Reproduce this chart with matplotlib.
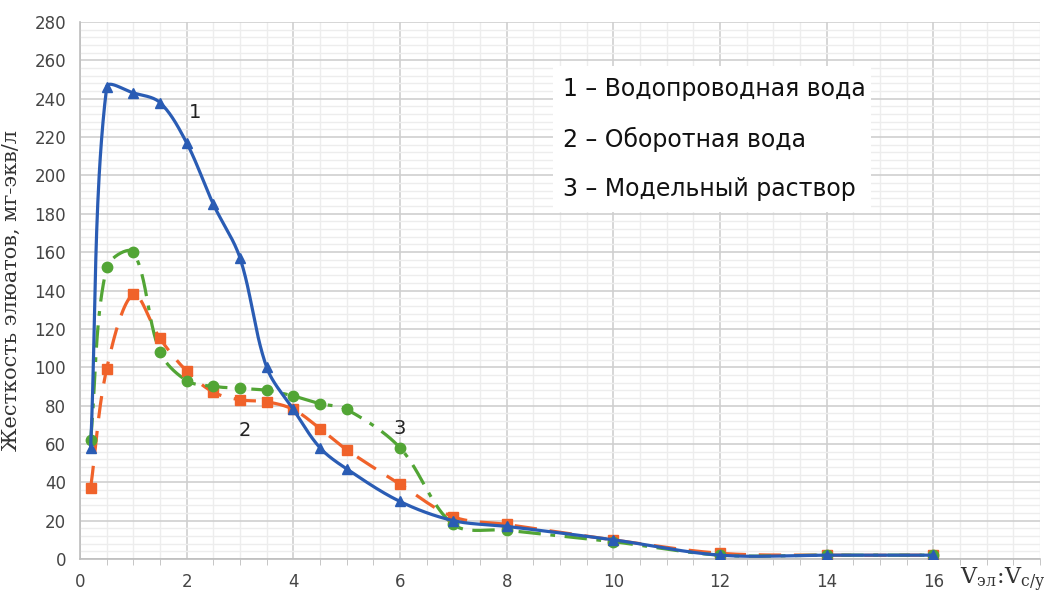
import numpy as np
import matplotlib.pyplot as plt
from matplotlib.patches import Rectangle
from matplotlib.ticker import MultipleLocator

# данные
x = [0.2, 0.5, 1, 1.5, 2, 2.5, 3, 3.5, 4, 4.5, 5, 6, 7, 8, 10, 12, 14, 16]
tap_water = [58, 246, 243, 238, 217, 185, 157, 100, 78, 58, 47, 30, 20, 17, 10, 2, 2, 2]
recycled_water = [37, 99, 138, 115, 98, 87, 83, 82, 78, 68, 57, 39, 22, 18, 10, 3, 2, 2]
model_solution = [62, 152, 160, 108, 93, 90, 89, 88, 85, 81, 78, 58, 18, 15, 9, 2, 2, 2]

legend_lines = ["1 – Водопроводная вода", "2 – Оборотная вода", "3 – Модельный раствор"]
legend_y = [245, 219, 193]

blue = '#2a5cb4'
orange = '#f0622a'
green = '#52a535'

# масштаб пикселей на единицу по осям (для сглаживания)
KX, KY = 53.6, 1.92


def smooth(xs, ys, n=40):
    # сглаживание в духе Excel: Безье, касательные зависят от длины отрезков
    P = np.column_stack([np.asarray(xs, float) * KX, np.asarray(ys, float) * KY])
    out = []
    for i in range(len(P) - 1):
        p0 = P[i - 1] if i > 0 else P[i]
        p1, p2 = P[i], P[i + 1]
        p3 = P[i + 2] if i + 2 < len(P) else P[i + 1]
        d01 = np.linalg.norm(p1 - p0)
        d12 = np.linalg.norm(p2 - p1)
        d23 = np.linalg.norm(p3 - p2)
        f1 = d12 / (d01 + d12) if d01 + d12 > 0 else 0
        f2 = d12 / (d12 + d23) if d12 + d23 > 0 else 0
        c1 = p1 + (p2 - p0) * f1 / 3
        c2 = p2 - (p3 - p1) * f2 / 3
        t = np.linspace(0, 1, n)[:, None]
        b = (1 - t) ** 3 * p1 + 3 * (1 - t) ** 2 * t * c1 + 3 * (1 - t) * t ** 2 * c2 + t ** 3 * p2
        out.append(b)
    out = np.vstack(out)
    return out[:, 0] / KX, out[:, 1] / KY


fig = plt.figure(figsize=(10.62, 5.95), dpi=100)
ax = fig.add_axes([0.0753, 0.0605, 0.904, 0.9025])

sx, sy = smooth(x, recycled_water)
ax.plot(sx, sy, color=orange, lw=2.3, dashes=(7, 4), zorder=3)
ax.plot(x, recycled_water, 's', color=orange, ms=7.5, zorder=4)

sx, sy = smooth(x, model_solution)
ax.plot(sx, sy, color=green, lw=2.3, dashes=(7, 3, 1.5, 3), zorder=3)
ax.plot(x, model_solution, 'o', color=green, ms=7.5, zorder=4)

sx, sy = smooth(x, tap_water)
ax.plot(sx, sy, color=blue, lw=2.3, zorder=5)
ax.plot(x, tap_water, '^', color=blue, ms=7.5, zorder=6)

ax.set_xlim(0, 18)
ax.set_ylim(0, 280)
ax.set_xticks(range(0, 17, 2))
ax.xaxis.set_minor_locator(MultipleLocator(0.5))
ax.yaxis.set_major_locator(MultipleLocator(20))
ax.yaxis.set_minor_locator(MultipleLocator(4))

ax.grid(which='major', color='#cfcfcf', lw=1.2, zorder=0)
ax.grid(which='minor', color='#ededed', lw=1.0, zorder=0)
ax.set_axisbelow(True)

for s in ['top', 'right']:
    ax.spines[s].set_visible(False)
for s in ['left', 'bottom']:
    ax.spines[s].set_color('#bdbdbd')
    ax.spines[s].set_linewidth(1.2)

ax.tick_params(axis='y', which='both', length=0, labelsize=12, colors='#454545', pad=10)
ax.tick_params(axis='x', which='major', length=0, labelsize=12, colors='#454545', pad=10)
ax.tick_params(axis='x', which='minor', length=4, color='#bdbdbd', direction='out')

ax.set_ylabel('Жесткость элюатов, мг-экв/л', family='DejaVu Serif', fontsize=15,
              color='#333333', labelpad=10)

ax.text(2.05, 233, '1', fontsize=14, color='#222222', ha='left', va='center')
ax.text(3.1, 67, '2', fontsize=14, color='#222222', ha='center', va='center')
ax.text(6.0, 68, '3', fontsize=14, color='#222222', ha='center', va='center')

# белая подложка под подписи серий
ax.add_patch(Rectangle((8.86, 181), 5.97, 76, facecolor='white', edgecolor='none', zorder=6))
for label, ly in zip(legend_lines, legend_y):
    ax.text(9.05, ly, label, fontsize=17, color='#111111', ha='left', va='center', zorder=7)

fig.text(0.985, 0.025, r'$\mathregular{V_{эл}\!:\!V_{с/у}}$', family='DejaVu Serif',
         fontsize=16, color='#333333', ha='right', va='center')

fig.savefig('out.png', dpi=100)
